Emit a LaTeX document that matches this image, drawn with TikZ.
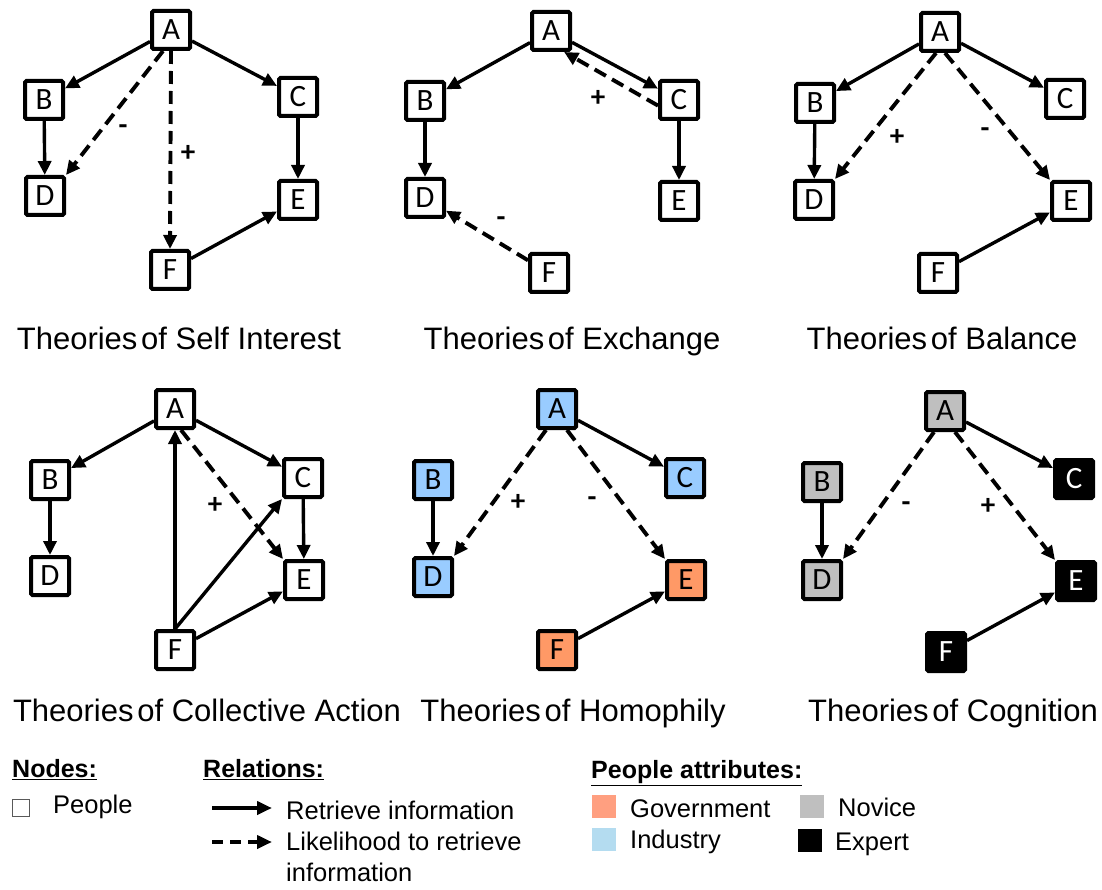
\documentclass[tikz,border=0pt]{standalone}
\usepackage{fontspec}
\setmainfont{Liberation Sans}
\newfontfamily\boxfont{Carlito}
\usetikzlibrary{arrows.meta}
\definecolor{indblue}{HTML}{99CCFF}
\definecolor{govorange}{HTML}{FF9966}
\definecolor{novgray}{HTML}{BFBFBF}
\definecolor{legorange}{HTML}{FF9F80}
\definecolor{legblue}{HTML}{B4DCF0}
\tikzset{
  person/.style={draw=black, line width=4pt, rounded corners=1.5pt,
    minimum width=38pt, minimum height=38pt, inner sep=0pt, fill=white,
    font=\boxfont\fontsize{31}{31}\selectfont},
  ind/.style={person, fill=indblue},
  gov/.style={person, fill=govorange},
  nov/.style={person, fill=novgray},
  expt/.style={person, fill=black, text=white},
  retrieve/.style={line width=3.4pt, -{Triangle[length=14pt,width=13pt]}},
  likely/.style={line width=3.9pt, dash pattern=on 13pt off 7pt,
    -{Triangle[length=14pt,width=13pt]}},
  sign/.style={font=\boxfont\bfseries\fontsize{29}{29}\selectfont, inner sep=0pt},
  title/.style={anchor=base, font=\fontsize{31}{36}\selectfont, inner sep=0pt},
  legtext/.style={anchor=west, font=\fontsize{25.5}{30}\selectfont, inner sep=0pt},
  leghead/.style={anchor=west, font=\bfseries\fontsize{25}{30}\selectfont, inner sep=0pt},
  swatch/.style={minimum width=24pt, minimum height=23pt, inner sep=0pt},
}
\newcommand{\theoriesof}{Theories\hspace{0.12em}of}
\begin{document}
\begin{tikzpicture}[x=1pt, y=-1pt]
\useasboundingbox (0,0) rectangle (1102,890);

% ---------- Self interest ----------
\node[person] (a1) at (171,30) {A};
\node[person] (b1) at (44,100) {B};
\node[person] (c1) at (298,97) {C};
\node[person] (d1) at (45,196) {D};
\node[person] (e1) at (298,200) {E};
\node[person] (f1) at (170,270) {F};
\draw[retrieve] (a1) -- (b1);
\draw[retrieve] (a1) -- (c1);
\draw[retrieve] (b1) -- (d1);
\draw[retrieve] (c1) -- (e1);
\draw[retrieve] (f1) -- (e1);
\draw[likely] ([xshift=-8pt]a1.south) -- (d1.north east);
\draw[likely] (a1.south) -- (f1.north);
\node[sign] (s1m) at (123,130) {-};
\node[sign] (s1p) at (188,153) {+};
\node[title] (t1) at (179,349) {\theoriesof{} Self Interest};

% ---------- Exchange ----------
\node[person] (a2) at (551,31) {A};
\node[person] (b2) at (425,101) {B};
\node[person] (c2) at (679,100) {C};
\node[person] (d2) at (425,198) {D};
\node[person] (e2) at (679,201) {E};
\node[person] (f2) at (549,273) {F};
\draw[retrieve] (a2) -- (b2);
\draw[retrieve] (a2) -- (c2);
\draw[retrieve] (b2) -- (d2);
\draw[retrieve] (c2) -- (e2);
\draw[likely] (c2.195) -- (a2.-58);
\draw[likely] (f2) -- (d2);
\node[sign] (s2p) at (598,98) {+};
\node[sign] (s2m) at (501,222) {-};
\node[title] (t2) at (572,349) {\theoriesof{} Exchange};

% ---------- Balance ----------
\node[person] (a3) at (940,32) {A};
\node[person] (b3) at (815,103) {B};
\node[person] (c3) at (1065,99) {C};
\node[person] (d3) at (814,200) {D};
\node[person] (e3) at (1071,201) {E};
\node[person] (f3) at (938,273) {F};
\draw[retrieve] (a3) -- (b3);
\draw[retrieve] (a3) -- (c3);
\draw[retrieve] (b3) -- (d3);
\draw[retrieve] (f3) -- (e3);
\draw[likely] ([xshift=-4pt]a3.south) -- (d3.north east);
\draw[likely] ([xshift=5pt]a3.south) -- (e3.north west);
\node[sign] (s3p) at (897,137) {+};
\node[sign] (s3m) at (985,133) {-};
\node[title] (t3) at (942,349) {\theoriesof{} Balance};

% ---------- Collective action ----------
\node[person] (a4) at (175,409) {A};
\node[person] (b4) at (50,480) {B};
\node[person] (c4) at (303,478) {C};
\node[person] (d4) at (50,576) {D};
\node[person] (e4) at (304,580) {E};
\node[person] (f4) at (175,650) {F};
\draw[retrieve] (a4) -- (b4);
\draw[retrieve] (a4) -- (c4);
\draw[retrieve] (b4) -- (d4);
\draw[retrieve] (c4) -- (e4);
\draw[retrieve] (f4.north) -- (a4.south);
\draw[retrieve] (f4.north) -- (c4.south west);
\draw[retrieve] (f4) -- (e4);
\draw[likely] ([xshift=6pt]a4.south) -- (e4.north west);
\node[sign] (s4p) at (215,505) {+};
\node[title] (t4) at (207,721) {\theoriesof{} Collective Action};

% ---------- Homophily ----------
\node[ind] (a5) at (557,409) {A};
\node[ind] (b5) at (433,480) {B};
\node[ind] (c5) at (685,478) {C};
\node[ind] (d5) at (433,577) {D};
\node[gov] (e5) at (686,580) {E};
\node[gov] (f5) at (557,650) {F};
\draw[retrieve] (a5) -- (c5);
\draw[retrieve] (b5) -- (d5);
\draw[retrieve] (f5) -- (e5);
\draw[likely] ([xshift=-11pt]a5.south) -- (d5.north east);
\draw[likely] ([xshift=10pt]a5.south) -- (e5.north west);
\node[sign] (s5p) at (518,502) {+};
\node[sign] (s5m) at (592,502) {-};
\node[title] (t5) at (573,721) {\theoriesof{} Homophily};

% ---------- Cognition ----------
\node[nov] (a6) at (945,411) {A};
\node[nov] (b6) at (822,482) {B};
\node[expt] (c6) at (1074,479) {C};
\node[nov] (d6) at (822,580) {D};
\node[expt] (e6) at (1076,581) {E};
\node[expt] (f6) at (946,652) {F};
\draw[retrieve] (a6) -- (c6);
\draw[retrieve] (b6) -- (d6);
\draw[retrieve] (f6) -- (e6);
\draw[likely] ([xshift=-11pt]a6.south) -- (d6.north east);
\draw[likely] ([xshift=10pt]a6.south) -- (e6.north west);
\node[sign] (s6m) at (906,507) {-};
\node[sign] (s6p) at (988,506) {+};
\node[title] (t6) at (953,721) {\theoriesof{} Cognition};

% ---------- Legend ----------
\node[leghead] (hnodes) at (12,770) {\underline{Nodes:}};
\node[draw=black!65, line width=1.3pt, minimum size=17pt, inner sep=0pt] (pbox) at (21,808) {};
\node[legtext] (lpeople) at (53,807) {People};

\node[leghead] (hrel) at (203,770) {\underline{Relations:}};
\coordinate (r1s) at (212,808);
\coordinate (r1e) at (272,808);
\draw[line width=4.2pt, -{Triangle[length=15pt,width=13pt]}] (r1s) -- (r1e);
\node[legtext] (lret) at (286,810) {Retrieve information};
\coordinate (r2s) at (212,842);
\coordinate (r2e) at (272,842);
\draw[line width=4.2pt, dash pattern=on 11pt off 7pt, -{Triangle[length=15pt,width=13pt]}] (r2s) -- (r2e);
\node[legtext, align=left, anchor=north west, font=\fontsize{25.5}{31}\selectfont] (llik) at (286,832) {Likelihood to retrieve\\information};

\node[leghead] (hattr) at (591,773) {\underline{People attributes:}};
\node[swatch, fill=legorange] (sgov) at (604,806) {};
\node[legtext] (lgov) at (630,809) {Government};
\node[swatch, fill=novgray] (snov) at (812,806) {};
\node[legtext] (lnov) at (838,807) {Novice};
\node[swatch, fill=legblue] (sind) at (604,839) {};
\node[legtext] (lind) at (630,842) {Industry};
\node[swatch, fill=black] (sexp) at (810,840) {};
\node[legtext] (lexp) at (835,844) {Expert};
\end{tikzpicture}
\end{document}
